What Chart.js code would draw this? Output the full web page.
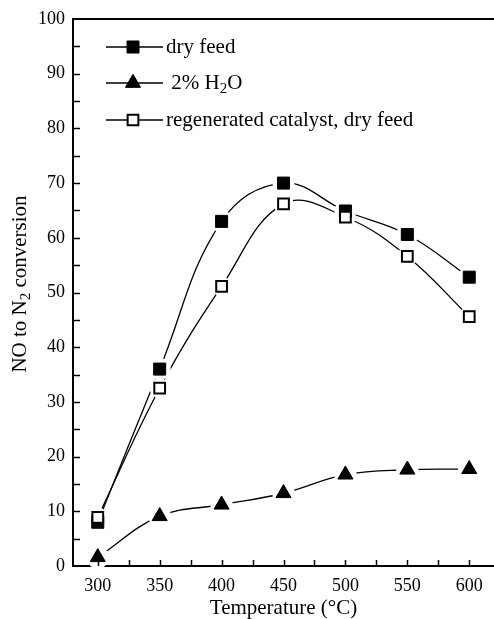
<!DOCTYPE html>
<html>
<head>
  <title>NO to N2 conversion</title>
  <script src="https://cdn.jsdelivr.net/npm/chart.js@4/dist/chart.umd.min.js"></script>
  <style>
    body { margin: 0; background: #fff; }
    .box { width: 494px; height: 619px; }
  </style>
</head>
<body>
  <div class="box"><canvas id="conv"></canvas></div>

  <script>
    // values
    var temps = [300, 350, 400, 450, 500, 550, 600];
    var dryFeed = [8.0, 36.0, 63.0, 70.0, 64.9, 60.6, 52.8];
    var water = [1.6, 9.1, 11.2, 13.3, 16.7, 17.6, 17.7];
    var regen = [8.9, 32.5, 51.1, 66.2, 63.8, 56.6, 45.6];

    var xLabels = [300, 350, 400, 450, 500, 550, 600];
    var xTickMarks = [300, 325, 350, 375, 400, 425, 450, 475, 500, 525, 550, 575, 600];
    var yTickMarks = [5, 10, 15, 20, 25, 30, 35, 40, 45, 50, 55, 60, 65, 70, 75, 80, 85, 90, 95];

    var serif = 'Liberation Serif, Times New Roman, serif';

    function pts(ys) {
      return temps.map(function(t, i) { return {x: t, y: ys[i]}; });
    }

    var datasets = [
      {
        label: 'dry feed', data: pts(dryFeed), order: 2,
        pointStyle: 'rect', pointRadius: 8.5, pointBackgroundColor: '#000', pointBorderColor: '#000', pointBorderWidth: 1
      },
      {
        label: '2% H2O', data: pts(water), order: 1,
        pointStyle: 'triangle', pointRadius: 8.7, pointBackgroundColor: '#000', pointBorderColor: '#000', pointBorderWidth: 1
      },
      {
        label: 'regenerated catalyst, dry feed', data: pts(regen), order: 0,
        pointStyle: 'rect', pointRadius: 7.6, pointBackgroundColor: '#fff', pointBorderColor: '#000', pointBorderWidth: 2
      }
    ];
    datasets.forEach(function(d) {
      d.borderColor = '#000';
      d.borderWidth = 1.3;
      d.tension = 0.4;
      d.fill = false;
      d.clip = false;
    });

    // white gap round every marker, then the markers again
    var gapPlugin = {
      id: 'gaps',
      afterDatasetsDraw: function(chart) {
        var ctx = chart.ctx;
        var metas = chart.getSortedVisibleDatasetMetas().slice().reverse();
        ctx.save();
        ctx.fillStyle = '#fff';
        metas.forEach(function(meta) {
          meta.data.forEach(function(p) {
            ctx.beginPath();
            ctx.arc(p.x, p.y, p.options.radius + 2.5, 0, Math.PI * 2);
            ctx.fill();
          });
        });
        ctx.restore();
        metas.forEach(function(meta) {
          meta.data.forEach(function(p) { p.draw(ctx); });
        });
      }
    };

    // inward ticks, top frame, y title and legend
    var decoPlugin = {
      id: 'deco',
      afterDraw: function(chart) {
        var ctx = chart.ctx;
        var a = chart.chartArea;
        var xs = chart.scales.x, ys = chart.scales.y;
        ctx.save();
        ctx.strokeStyle = '#000';
        ctx.lineWidth = 2;
        ctx.beginPath();
        ctx.moveTo(a.left - 1, a.top);
        ctx.lineTo(a.right, a.top);
        ctx.stroke();

        ctx.lineWidth = 1.5;
        ctx.beginPath();
        yTickMarks.forEach(function(v) {
          var y = Math.round(ys.getPixelForValue(v)) + 0.5;
          ctx.moveTo(a.left, y);
          ctx.lineTo(a.left + 7, y);
        });
        xTickMarks.forEach(function(v) {
          var x = Math.round(xs.getPixelForValue(v)) + 0.5;
          ctx.moveTo(x, a.bottom);
          ctx.lineTo(x, a.bottom - 6);
        });
        ctx.stroke();

        // y axis title with subscript
        ctx.fillStyle = '#000';
        ctx.textBaseline = 'middle';
        ctx.translate(20, 284);
        ctx.rotate(-Math.PI / 2);
        var big = '21px ' + serif, small = '15px ' + serif;
        ctx.font = big;
        var w1 = ctx.measureText('NO to N').width;
        var w3 = ctx.measureText(' conversion').width;
        ctx.font = small;
        var w2 = ctx.measureText('2').width;
        var x0 = -(w1 + w2 + w3) / 2;
        ctx.font = big;
        ctx.fillText('NO to N', x0, 0);
        ctx.font = small;
        ctx.fillText('2', x0 + w1, 6);
        ctx.font = big;
        ctx.fillText(' conversion', x0 + w1 + w2, 0);
        ctx.restore();

        // legend
        var rows = [47, 83, 120];
        var texts = [['dry feed'], [' 2% H', '2', 'O'], ['regenerated catalyst, dry feed']];
        ctx.save();
        ctx.textBaseline = 'middle';
        ctx.fillStyle = '#000';
        datasets.forEach(function(d, i) {
          var y = rows[i];
          ctx.strokeStyle = '#000';
          ctx.lineWidth = 1.3;
          ctx.beginPath();
          ctx.moveTo(106, y);
          ctx.lineTo(163, y);
          ctx.stroke();
          ctx.fillStyle = d.pointBackgroundColor;
          ctx.strokeStyle = d.pointBorderColor;
          ctx.lineWidth = d.pointBorderWidth;
          Chart.helpers.drawPoint(ctx, {
            pointStyle: d.pointStyle, radius: d.pointRadius, borderWidth: d.pointBorderWidth, rotation: 0
          }, 133, y);
          ctx.fillStyle = '#000';
          var x = 166;
          texts[i].forEach(function(t, k) {
            var sub = (texts[i].length === 3 && k === 1);
            ctx.font = (sub ? '15px ' : '21px ') + serif;
            ctx.fillText(t, x, sub ? y + 6 : y);
            x += ctx.measureText(t).width;
          });
        });
        ctx.restore();
      }
    };

    new Chart(document.getElementById('conv').getContext('2d'), {
      type: 'line',
      data: { datasets: datasets },
      plugins: [gapPlugin, decoPlugin],
      options: {
        responsive: true,
        maintainAspectRatio: false,
        animation: false,
        layout: { autoPadding: false, padding: { top: 19, right: 0, bottom: 0, left: 0 } },
        plugins: { legend: { display: false }, tooltip: { enabled: false } },
        scales: {
          x: {
            type: 'linear', min: 280, max: 620,
            afterBuildTicks: function(s) { s.ticks = xLabels.map(function(v) { return {value: v}; }); },
            afterFit: function(s) { s.height = 53; s.paddingLeft = 0; s.paddingRight = 0; },
            grid: { drawOnChartArea: false, drawTicks: false },
            border: { display: true, color: '#000', width: 2 },
            ticks: { color: '#000', padding: 9, maxRotation: 0, font: { family: serif, size: 18 } },
            title: {
              display: true, text: 'Temperature (\u00B0C)', color: '#000',
              padding: { top: 0, bottom: 0 }, font: { family: serif, size: 21, lineHeight: 1 }
            }
          },
          y: {
            min: 0, max: 100,
            afterFit: function(s) { s.width = 73; },
            grid: { drawOnChartArea: false, drawTicks: false },
            border: { display: true, color: '#000', width: 2 },
            ticks: { stepSize: 10, color: '#000', padding: 8, font: { family: serif, size: 18 } }
          }
        }
      }
    });
  </script>
</body>
</html>
